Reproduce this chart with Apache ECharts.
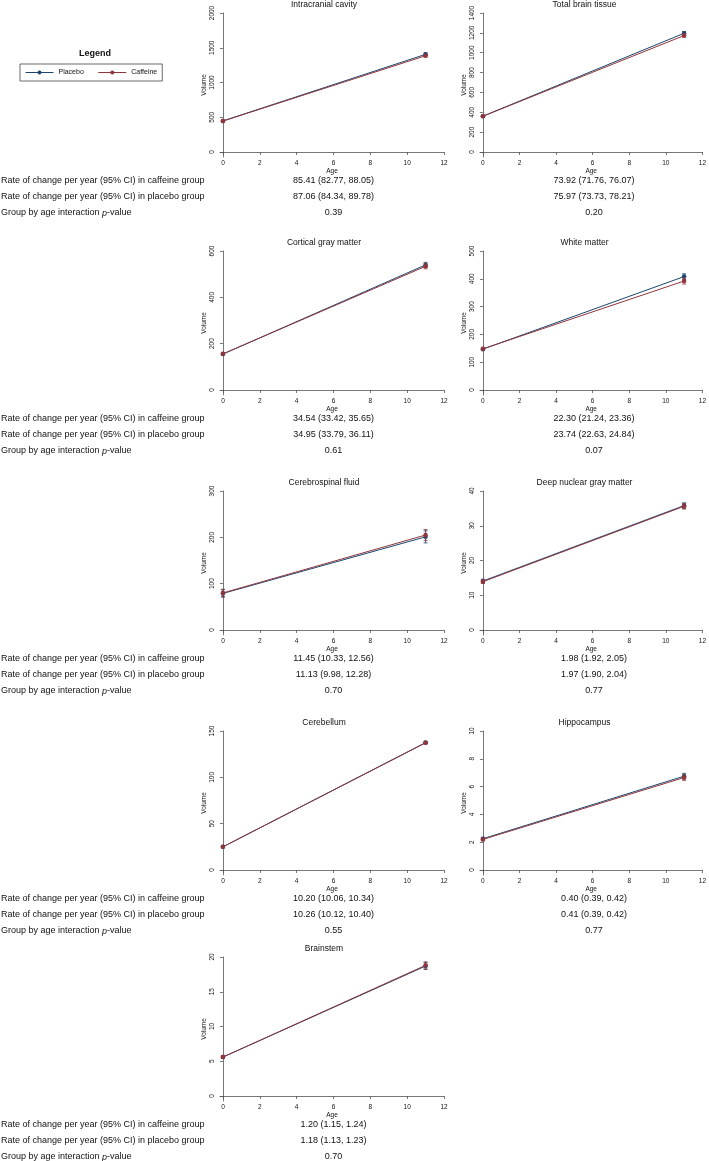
<!DOCTYPE html>
<html>
<head>
<meta charset="utf-8">
<title>Brain volumes by age</title>
<script src="https://cdn.jsdelivr.net/npm/echarts@6/dist/echarts.min.js"></script>
<style>
  html, body { margin: 0; padding: 0; background: #fff; }
  #chart { width: 709px; height: 1161px; }
</style>
</head>
<body>
<div id="chart"></div>
<script>
// ---- data ----
var panelTitles = ['Intracranial cavity', 'Total brain tissue', 'Cortical gray matter', 'White matter',
  'Cerebrospinal fluid', 'Deep nuclear gray matter', 'Cerebellum', 'Hippocampus', 'Brainstem'];
var ages = [0, 11];
var xTicks = [0, 2, 4, 6, 8, 10, 12];
var yMax = [2000, 1400, 600, 500, 300, 40, 150, 10, 20];
var yStep = [500, 200, 200, 100, 100, 10, 50, 2, 5];

// mean, lower and upper CI at age 0 and age 11
var placeboMean = [[447, 1405], [361, 1196], [155, 540], [147, 408], [79, 201], [14.1, 35.8], [25, 137.5], [2.25, 6.75], [5.6, 18.7]];
var placeboLow  = [[437, 1385], [352, 1178], [151, 529], [143, 398], [71, 188], [13.6, 35.0], [24.4, 136.5], [2.15, 6.55], [5.4, 18.2]];
var placeboHigh = [[457, 1425], [370, 1214], [159, 551], [151, 418], [87, 214], [14.6, 36.6], [25.6, 138.5], [2.35, 6.95], [5.8, 19.2]];
var caffeineMean = [[445, 1385], [360, 1173], [156, 534], [148, 392], [80, 205], [13.9, 35.6], [25, 137.2], [2.2, 6.65], [5.6, 18.8]];
var caffeineLow  = [[435, 1365], [351, 1155], [152, 523], [144, 381], [72, 193], [13.4, 34.8], [24.4, 136.2], [2.1, 6.45], [5.4, 18.3]];
var caffeineHigh = [[455, 1405], [369, 1191], [160, 545], [152, 403], [88, 217], [14.4, 36.4], [25.6, 138.2], [2.3, 6.85], [5.8, 19.3]];

var caffeineRate = ['85.41 (82.77, 88.05)', '73.92 (71.76, 76.07)', '34.54 (33.42, 35.65)', '22.30 (21.24, 23.36)',
  '11.45 (10.33, 12.56)', '1.98 (1.92, 2.05)', '10.20 (10.06, 10.34)', '0.40 (0.39, 0.42)', '1.20 (1.15, 1.24)'];
var placeboRate = ['87.06 (84.34, 89.78)', '75.97 (73.73, 78.21)', '34.95 (33.79, 36.11)', '23.74 (22.63, 24.84)',
  '11.13 (9.98, 12.28)', '1.97 (1.90, 2.04)', '10.26 (10.12, 10.40)', '0.41 (0.39, 0.42)', '1.18 (1.13, 1.23)'];
var pValue = ['0.39', '0.20', '0.61', '0.07', '0.70', '0.77', '0.55', '0.77', '0.70'];
var rowLabels = ['Rate of change per year (95% CI) in caffeine group',
  'Rate of change per year (95% CI) in placebo group',
  '{n|Group by age interaction }{i|p}{n|-value}'];

// ---- layout ----
var FONT = '"Liberation Sans", Arial, Helvetica, sans-serif';
var C_PLACEBO = '#1a476f';
var C_CAFFEINE = '#90353b';
var AXIS = '#555';
var colLeft = [220, 480];
var colRight = [444, 705];
var rowTop = [5, 243, 483, 723, 949];
var plotH = 144;

function ticksFor(i) {
  var out = [];
  for (var v = 0; v <= yMax[i] + 1e-9; v += yStep[i]) out.push(Math.round(v * 1000) / 1000);
  return out;
}

function errorBars(lo, hi, color) {
  return function (params, api) {
    var x = api.value(0);
    var a = api.coord([x, api.value(1)]);
    var b = api.coord([x, api.value(2)]);
    var w = 2;
    var st = { stroke: color, lineWidth: 0.8 };
    return {
      type: 'group',
      children: [
        { type: 'line', shape: { x1: a[0], y1: a[1], x2: b[0], y2: b[1] }, style: st },
        { type: 'line', shape: { x1: a[0] - w, y1: a[1], x2: a[0] + w, y2: a[1] }, style: st },
        { type: 'line', shape: { x1: b[0] - w, y1: b[1], x2: b[0] + w, y2: b[1] }, style: st }
      ]
    };
  };
}

function plain(v) { return String(v); }

var grids = [], xAxes = [], yAxes = [], series = [], graphics = [];

panelTitles.forEach(function (name, i) {
  var col = i % 2, row = Math.floor(i / 2);
  var T = rowTop[row];
  grids.push({ left: colLeft[col], top: T + 8, width: colRight[col] - colLeft[col], height: plotH });
  xAxes.push({
    gridIndex: i, type: 'value', min: -0.16, max: 12,
    name: 'Age', nameLocation: 'middle', nameGap: 9,
    nameTextStyle: { fontSize: 6.5, fontFamily: FONT, color: '#111' },
    axisLine: { lineStyle: { color: AXIS, width: 0.8 } },
    axisTick: { length: 3, customValues: xTicks, lineStyle: { color: AXIS, width: 0.8 } },
    axisLabel: { customValues: xTicks, formatter: plain, fontSize: 6.5, fontFamily: FONT, color: '#111', margin: 3 },
    splitLine: { show: false }
  });
  var yt = ticksFor(i);
  yAxes.push({
    gridIndex: i, type: 'value', min: -yMax[i] * 5 / 139, max: yMax[i],
    name: 'Volume', nameLocation: 'middle', nameGap: 11,
    nameTextStyle: { fontSize: 6.5, fontFamily: FONT, color: '#111' },
    axisLine: { show: true, lineStyle: { color: AXIS, width: 0.8 } },
    axisTick: { show: true, length: 3, customValues: yt, lineStyle: { color: AXIS, width: 0.8 } },
    axisLabel: { customValues: yt, formatter: plain, rotate: 90, fontSize: 6.5, fontFamily: FONT, color: '#111', margin: 4 },
    splitLine: { show: false }
  });

  var groups = [
    ['Placebo', placeboMean[i], placeboLow[i], placeboHigh[i], C_PLACEBO],
    ['Caffeine', caffeineMean[i], caffeineLow[i], caffeineHigh[i], C_CAFFEINE]
  ];
  groups.forEach(function (g, k) {
    series.push({
      name: g[0], type: 'line', xAxisIndex: i, yAxisIndex: i, z: 3 + k,
      data: ages.map(function (a, j) { return [a, g[1][j]]; }),
      symbol: 'circle', symbolSize: 4.5, showSymbol: true,
      lineStyle: { color: g[4], width: 1 },
      itemStyle: { color: g[4] }
    });
    series.push({
      name: g[0], type: 'custom', xAxisIndex: i, yAxisIndex: i, z: 3 + k,
      data: ages.map(function (a, j) { return [a, g[2][j], g[3][j]]; }),
      encode: { x: 0, y: [1, 2] },
      renderItem: errorBars(g[2], g[3], g[4])
    });
  });

  // panel title
  graphics.push({
    type: 'text', x: (colLeft[col] + colRight[col]) / 2 - 8, y: T,
    style: { text: name, align: 'center', verticalAlign: 'middle', fontSize: 8.5, fontFamily: FONT, fill: '#111' }
  });

  // statistics under the panel
  var cx = (colLeft[col] + 3 + colRight[col]) / 2;
  [caffeineRate[i], placeboRate[i], pValue[i]].forEach(function (t, r) {
    graphics.push({
      type: 'text', x: cx, y: T + 176 + r * 16,
      style: { text: t, align: 'center', verticalAlign: 'middle', fontSize: 9, fontFamily: FONT, fill: '#111' }
    });
  });
});

// row labels on the left of each block
rowTop.forEach(function (T) {
  rowLabels.forEach(function (t, r) {
    graphics.push({
      type: 'text', x: 1, y: T + 176 + r * 16,
      style: {
        text: t, align: 'left', verticalAlign: 'middle', fontSize: 9, fontFamily: FONT, fill: '#111',
        rich: {
          n: { fontSize: 9, fontFamily: FONT, fill: '#111' },
          i: { fontSize: 9, fontFamily: FONT, fill: '#111', fontStyle: 'italic' }
        }
      }
    });
  });
});

// legend heading
graphics.push({
  type: 'text', x: 95, y: 54,
  style: { text: 'Legend', align: 'center', verticalAlign: 'middle', fontSize: 9, fontWeight: 'bold', fontFamily: FONT, fill: '#111' }
});

var myChart = echarts.init(document.getElementById('chart'), null, { renderer: 'canvas' });
myChart.setOption({
  animation: false,
  backgroundColor: '#fff',
  legend: {
    data: ['Placebo', 'Caffeine'],
    left: 20, top: 64,
    padding: [5, 5],
    itemWidth: 28, itemHeight: 5, itemGap: 14,
    lineStyle: { width: 1 },
    borderColor: '#444', borderWidth: 0.8, borderRadius: 0,
    textStyle: { fontSize: 7, fontFamily: FONT, color: '#111' }
  },
  grid: grids,
  xAxis: xAxes,
  yAxis: yAxes,
  series: series,
  graphic: graphics
});
</script>
</body>
</html>
